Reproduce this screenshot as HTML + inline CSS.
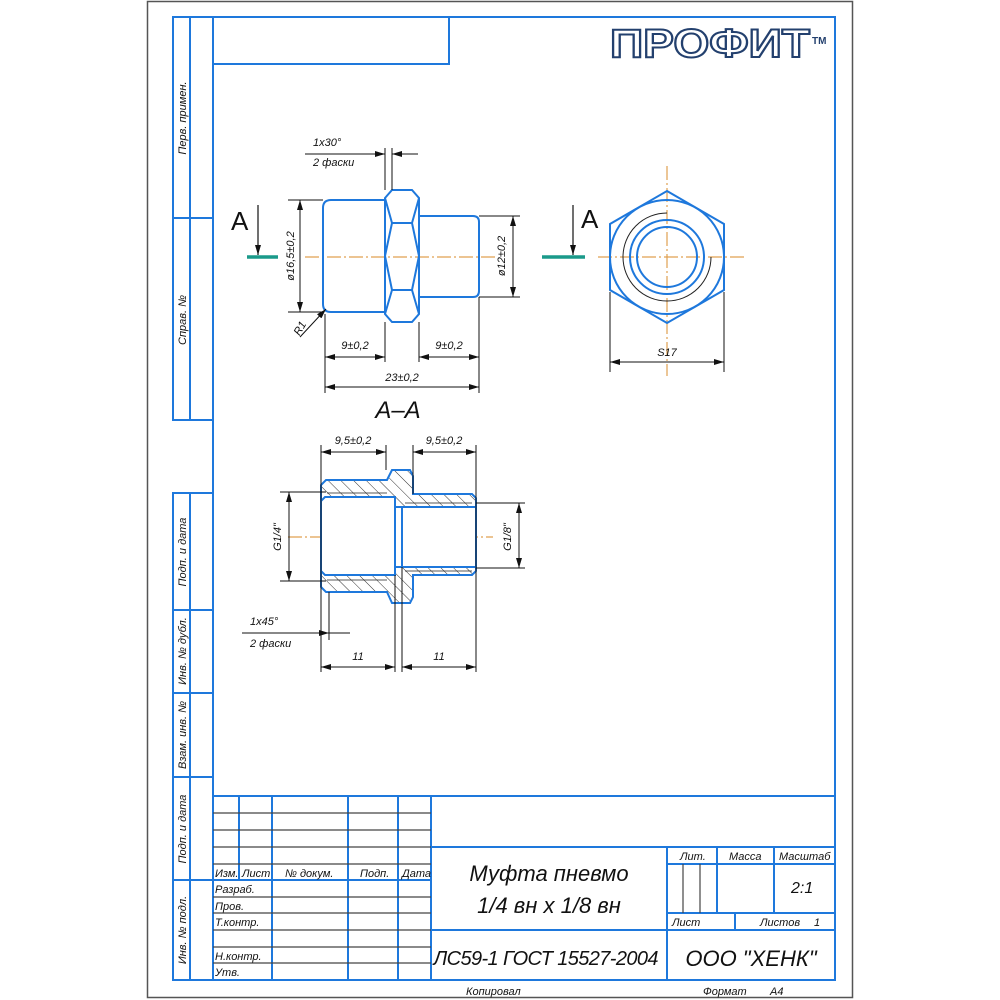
<!DOCTYPE html>
<html><head><meta charset="utf-8"><style>
html,body{margin:0;padding:0;background:#fff;width:1000px;height:1000px;overflow:hidden}
svg{display:block}
text{font-family:"Liberation Sans","DejaVu Sans",sans-serif;font-style:italic;fill:#111}
</style></head><body>
<svg width="1000" height="1000" viewBox="0 0 1000 1000" xmlns="http://www.w3.org/2000/svg">
<defs>
<marker id="ar" viewBox="0 0 10 6" refX="10" refY="3" markerWidth="10" markerHeight="6" markerUnits="userSpaceOnUse" orient="auto-start-reverse"><path d="M0,0 L10,3 L0,6 z" fill="#111"/></marker>
<pattern id="hatch" patternUnits="userSpaceOnUse" width="9" height="9" patternTransform="rotate(-45)"><line x1="0" y1="0" x2="0" y2="9" stroke="#333" stroke-width="1"/></pattern>
</defs>
<!-- page -->
<rect x="147.5" y="1.5" width="705" height="996" fill="#fff" stroke="#555" stroke-width="1.5"/>
<g fill="none" stroke="#1e78dc" stroke-width="2">
<rect x="213" y="17" width="622" height="963"/>
<rect x="213" y="17" width="236" height="47"/>
<rect x="173" y="17" width="40" height="403"/>
<line x1="190" y1="17" x2="190" y2="420"/>
<line x1="173" y1="218" x2="213" y2="218"/>
<rect x="173" y="493" width="40" height="487"/>
<line x1="190" y1="493" x2="190" y2="980"/>
<line x1="173" y1="610" x2="213" y2="610"/>
<line x1="173" y1="693" x2="213" y2="693"/>
<line x1="173" y1="777" x2="213" y2="777"/>
<line x1="173" y1="880" x2="213" y2="880"/>
<!-- title block -->
<line x1="213" y1="796" x2="835" y2="796"/>
<line x1="239" y1="796" x2="239" y2="880"/>
<line x1="272" y1="796" x2="272" y2="980"/>
<line x1="348" y1="796" x2="348" y2="980"/>
<line x1="398" y1="796" x2="398" y2="980"/>
<line x1="431" y1="796" x2="431" y2="980"/>
<line x1="431" y1="847" x2="835" y2="847"/>
<line x1="213" y1="880" x2="431" y2="880"/>
<line x1="667" y1="847" x2="667" y2="980"/>
<line x1="431" y1="930" x2="835" y2="930"/>
<line x1="667" y1="864" x2="835" y2="864"/>
<line x1="717" y1="847" x2="717" y2="913"/>
<line x1="774" y1="847" x2="774" y2="913"/>
<line x1="667" y1="913" x2="835" y2="913"/>
<line x1="735" y1="913" x2="735" y2="930"/>
</g>
<g stroke="#444" stroke-width="1.2">
<line x1="213" y1="813" x2="431" y2="813"/>
<line x1="213" y1="830" x2="431" y2="830"/>
<line x1="213" y1="847" x2="431" y2="847"/>
<line x1="213" y1="864" x2="431" y2="864"/>
<line x1="213" y1="897" x2="431" y2="897"/>
<line x1="213" y1="913" x2="431" y2="913"/>
<line x1="213" y1="930" x2="431" y2="930"/>
<line x1="213" y1="947" x2="431" y2="947"/>
<line x1="213" y1="963" x2="431" y2="963"/>
<line x1="683" y1="864" x2="683" y2="913"/>
<line x1="700" y1="864" x2="700" y2="913"/>
</g>
<g font-size="11">
<text x="215" y="877">Изм.</text><text x="242" y="877">Лист</text><text x="285" y="877">№ докум.</text><text x="360" y="877">Подп.</text><text x="402" y="877">Дата</text>
<text x="215" y="893">Разраб.</text><text x="215" y="910">Пров.</text><text x="215" y="926">Т.контр.</text>
<text x="215" y="960">Н.контр.</text><text x="215" y="976">Утв.</text>
<text x="680" y="860">Лит.</text><text x="729" y="860">Масса</text><text x="779" y="860">Масштаб</text>
<text x="672" y="926">Лист</text><text x="760" y="926">Листов</text><text x="814" y="926">1</text>
<text x="466" y="995">Копировал</text><text x="703" y="995">Формат</text><text x="770" y="995">А4</text>
</g>
<text x="791" y="893" font-size="16">2:1</text>
<text x="549" y="881" font-size="22" text-anchor="middle">Муфта пневмо</text>
<text x="549" y="913" font-size="22" text-anchor="middle">1/4 вн х 1/8 вн</text>
<text x="546" y="965" font-size="20" text-anchor="middle" textLength="225">ЛС59-1 ГОСТ 15527-2004</text>
<text x="751" y="966" font-size="22" text-anchor="middle">ООО "ХЕНК"</text>
<!-- strip labels -->
<g font-size="11">
<text transform="translate(186,118) rotate(-90)" text-anchor="middle">Перв. примен.</text>
<text transform="translate(186,320) rotate(-90)" text-anchor="middle">Справ. №</text>
<text transform="translate(186,552) rotate(-90)" text-anchor="middle">Подп. и дата</text>
<text transform="translate(186,651) rotate(-90)" text-anchor="middle">Инв. № дубл.</text>
<text transform="translate(186,735) rotate(-90)" text-anchor="middle">Взам. инв. №</text>
<text transform="translate(186,829) rotate(-90)" text-anchor="middle">Подп. и дата</text>
<text transform="translate(186,930) rotate(-90)" text-anchor="middle">Инв. № подл.</text>
</g>
<!-- logo -->
<text x="610" y="57" font-size="40" font-weight="bold" font-style="normal" textLength="200" lengthAdjust="spacingAndGlyphs" style="fill:#fff;stroke:#23406e;stroke-width:2;font-style:normal">ПРОФИТ</text>
<text x="812" y="44" font-size="10" font-weight="bold" style="fill:#23406e;font-style:normal">TM</text>

<!-- centerlines -->
<g stroke="#e0a050" stroke-width="1.2" stroke-dasharray="14,3,2,3" fill="none">
<line x1="305" y1="257" x2="495" y2="257"/>
<line x1="598" y1="257" x2="745" y2="257"/>
<line x1="667" y1="166" x2="667" y2="376"/>
<line x1="288" y1="537" x2="493" y2="537"/>
</g>

<!-- front view -->
<g fill="none" stroke="#1e78dc" stroke-width="2">
<path d="M331,200 H385 V312 H331 Q323,312 323,304 V208 Q323,200 331,200 Z"/>
<path d="M419,216 H473 Q479,216 479,222 V291 Q479,297 473,297 H419 Z"/>
<path d="M385,198 L392,190 H412 L419,198 V314 L412,322 H392 L385,314 Z"/>
<path d="M385,198 L392,223 L385,256 L392,290 L385,314 M419,198 L412,223 L419,256 L412,290 L419,314 M392,223 H412 M392,290 H412"/>
</g>
<!-- section markers -->
<g stroke="#1a9a8a" stroke-width="3.5"><line x1="247" y1="257" x2="278" y2="257"/><line x1="542" y1="257" x2="585" y2="257"/></g>
<g stroke="#111" stroke-width="1.2" fill="none">
<line x1="258" y1="205" x2="258" y2="255" marker-end="url(#ar)"/>
<line x1="573" y1="205" x2="573" y2="255" marker-end="url(#ar)"/>
</g>
<text x="231" y="230" font-size="26" style="font-style:normal">А</text>
<text x="581" y="228" font-size="26" style="font-style:normal">А</text>

<!-- front dims -->
<g stroke="#111" stroke-width="1" fill="none">
<line x1="385" y1="148" x2="385" y2="190"/><line x1="392" y1="148" x2="392" y2="190"/>
<line x1="305" y1="154" x2="385" y2="154" marker-end="url(#ar)"/><line x1="418" y1="154" x2="392" y2="154" marker-end="url(#ar)"/>
<line x1="288" y1="200" x2="323" y2="200"/><line x1="288" y1="312" x2="323" y2="312"/>
<line x1="300" y1="200" x2="300" y2="312" marker-start="url(#ar)" marker-end="url(#ar)"/>
<line x1="300" y1="337" x2="326" y2="309" marker-end="url(#ar)"/>
<line x1="479" y1="216" x2="520" y2="216"/><line x1="479" y1="297" x2="520" y2="297"/>
<line x1="513" y1="216" x2="513" y2="297" marker-start="url(#ar)" marker-end="url(#ar)"/>
<line x1="325" y1="314" x2="325" y2="393"/><line x1="385" y1="322" x2="385" y2="362"/>
<line x1="419" y1="322" x2="419" y2="362"/><line x1="479" y1="297" x2="479" y2="393"/>
<line x1="325" y1="357" x2="385" y2="357" marker-start="url(#ar)" marker-end="url(#ar)"/>
<line x1="419" y1="357" x2="479" y2="357" marker-start="url(#ar)" marker-end="url(#ar)"/>
<line x1="325" y1="387" x2="479" y2="387" marker-start="url(#ar)" marker-end="url(#ar)"/>
</g>
<g font-size="11">
<text x="313" y="146">1х30°</text><text x="313" y="166">2 фаски</text>
<text transform="translate(294,256) rotate(-90)" text-anchor="middle">ø16,5±0,2</text>
<text transform="translate(505,256) rotate(-90)" text-anchor="middle">ø12±0,2</text>
<text transform="translate(303,330) rotate(-60)" text-anchor="middle">R1</text>
<text x="355" y="349" text-anchor="middle">9±0,2</text>
<text x="449" y="349" text-anchor="middle">9±0,2</text>
<text x="402" y="381" text-anchor="middle">23±0,2</text>
</g>
<text x="398" y="418" font-size="24" text-anchor="middle">А–А</text>

<!-- end view -->
<g fill="none" stroke="#1e78dc" stroke-width="2">
<polygon points="667,191 724,224 724,290 667,323 610,290 610,224"/>
<circle cx="667" cy="257" r="57"/>
<circle cx="667" cy="257" r="37"/>
<circle cx="667" cy="257" r="30"/>
</g>
<path d="M711,257 A44,44 0 1 1 667,213" fill="none" stroke="#222" stroke-width="1" transform="rotate(0)"/>
<g stroke="#111" stroke-width="1" fill="none">
<line x1="610" y1="292" x2="610" y2="372"/><line x1="724" y1="292" x2="724" y2="372"/>
<line x1="610" y1="362" x2="724" y2="362" marker-start="url(#ar)" marker-end="url(#ar)"/>
</g>
<text x="667" y="356" font-size="11" text-anchor="middle">S17</text>

<!-- section view -->
<path d="M326,480 H387 L392,470 H410 L413,476 V494 H472 L476,498 V571 L472,575 H413 V597 L410,603 H392 L387,592 H326 L321,587 V485 Z" fill="url(#hatch)" stroke="#1e78dc" stroke-width="2"/>
<path d="M325,497 H395 V507 H476 V567 H395 V575 H325 L321,571 V501 Z" fill="#fff" stroke="#1e78dc" stroke-width="2"/>
<g stroke="#1e78dc" stroke-width="2"><line x1="395" y1="497" x2="395" y2="575"/><line x1="402" y1="507" x2="402" y2="567"/></g>
<g stroke="#222" stroke-width="0.8"><line x1="327" y1="493" x2="387" y2="493"/><line x1="327" y1="580" x2="387" y2="580"/><line x1="405" y1="503" x2="472" y2="503"/><line x1="405" y1="571" x2="472" y2="571"/></g>
<g stroke="#111" stroke-width="1" fill="none">
<line x1="321" y1="445" x2="321" y2="672"/><line x1="386" y1="445" x2="386" y2="470"/>
<line x1="413" y1="445" x2="413" y2="494"/><line x1="476" y1="445" x2="476" y2="672"/>
<line x1="321" y1="452" x2="386" y2="452" marker-start="url(#ar)" marker-end="url(#ar)"/>
<line x1="413" y1="452" x2="476" y2="452" marker-start="url(#ar)" marker-end="url(#ar)"/>
<line x1="280" y1="492" x2="326" y2="492"/><line x1="280" y1="581" x2="326" y2="581"/>
<line x1="289" y1="492" x2="289" y2="581" marker-start="url(#ar)" marker-end="url(#ar)"/>
<line x1="476" y1="503" x2="525" y2="503"/><line x1="476" y1="568" x2="525" y2="568"/>
<line x1="519" y1="503" x2="519" y2="568" marker-start="url(#ar)" marker-end="url(#ar)"/>
<line x1="329" y1="592" x2="329" y2="640"/>
<line x1="242" y1="633" x2="329" y2="633" marker-end="url(#ar)"/><line x1="350" y1="633" x2="329" y2="633"/>
<line x1="395" y1="575" x2="395" y2="672"/><line x1="402" y1="567" x2="402" y2="672"/>
<line x1="321" y1="667" x2="395" y2="667" marker-start="url(#ar)" marker-end="url(#ar)"/>
<line x1="402" y1="667" x2="476" y2="667" marker-start="url(#ar)" marker-end="url(#ar)"/>
</g>
<g font-size="11">
<text x="353" y="444" text-anchor="middle">9,5±0,2</text>
<text x="444" y="444" text-anchor="middle">9,5±0,2</text>
<text transform="translate(281,537) rotate(-90)" text-anchor="middle">G1/4"</text>
<text transform="translate(511,537) rotate(-90)" text-anchor="middle">G1/8"</text>
<text x="250" y="625">1х45°</text><text x="250" y="647">2 фаски</text>
<text x="358" y="660" text-anchor="middle">11</text>
<text x="439" y="660" text-anchor="middle">11</text>
</g>
</svg>
</body></html>
